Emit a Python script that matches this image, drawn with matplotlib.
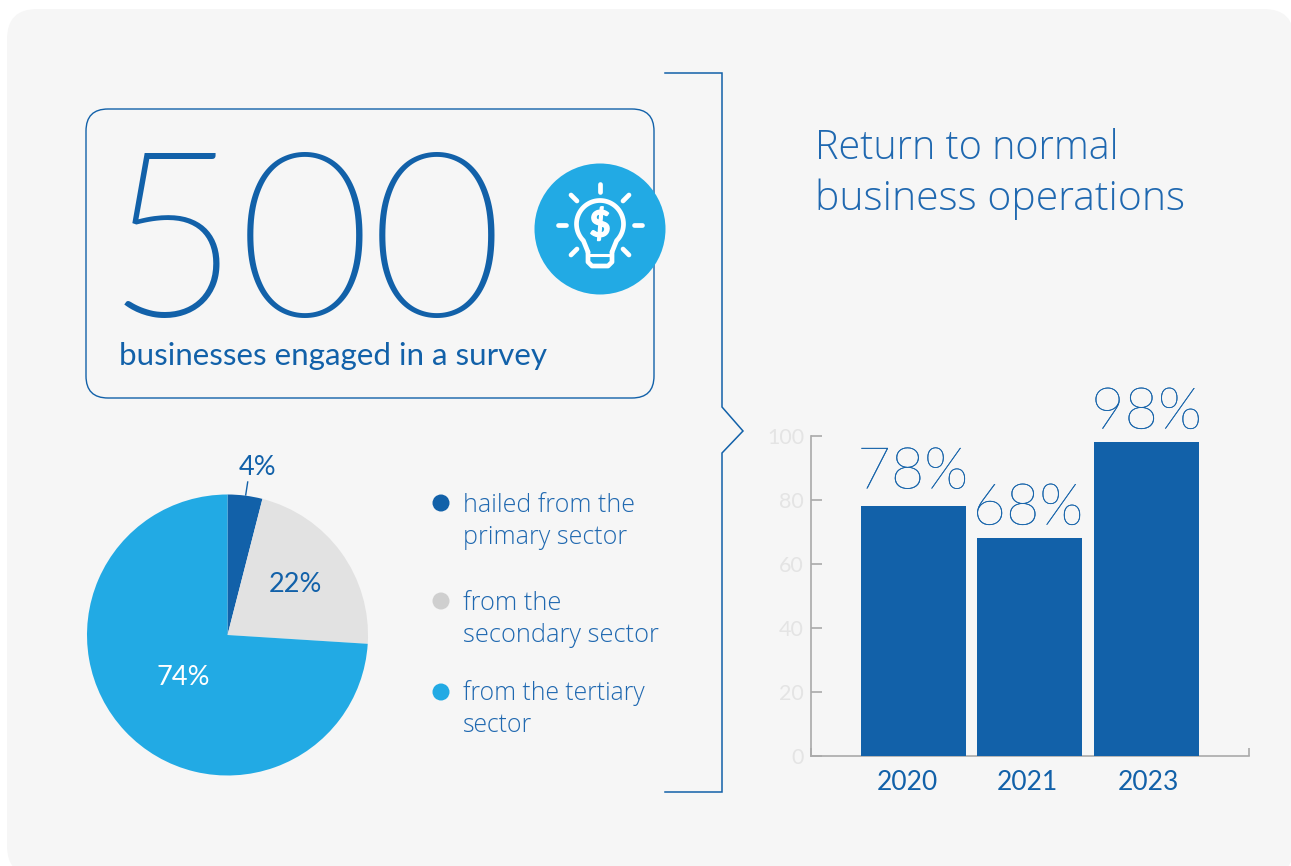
import numpy as np
import matplotlib
matplotlib.use("Agg")
import matplotlib.pyplot as plt
from matplotlib import font_manager as fm
from matplotlib.patches import FancyBboxPatch, Circle
from matplotlib.transforms import ScaledTranslation
import matplotlib.patheffects as pe

# ---- data ----
years = ["2020", "2021", "2023"]
return_pct = [78, 68, 98]
y_ticks = [0, 20, 40, 60, 80, 100]
sector_pct = [4, 22, 74]
legend_lines = ["hailed from the\nprimary sector", "from the\nsecondary sector", "from the tertiary\nsector"]
headline_value = "500"
headline_text = "businesses engaged in a survey"
title_lines = ["Return to normal", "business operations"]

# ---- style ----
W, H = 1291, 866
BLUE = "#1261a9"
SKY = "#22aae4"
PALE = "#e2e2e2"
BG = "#f6f6f6"
LEG_GREY = "#cfcfcf"
AXIS = "#aaaaaa"
TICKTXT = "#e4e4e4"
TEXTBLUE = "#1f68b0"


def lato_file(tag):
    for f in fm.fontManager.ttflist:
        base = f.fname.split("/")[-1]
        if f.name.startswith("Lato") and tag in base and "Italic" not in base:
            return fm.FontProperties(fname=f.fname)
    return fm.FontProperties(family="Lato")


LIGHT = lato_file("Light")

fig = plt.figure(figsize=(W / 100, H / 100), dpi=100, facecolor="white")
plt.rcParams["font.family"] = ["Lato", "DejaVu Sans"]


def axes_px(x0, y0, x1, y1, **kw):
    return fig.add_axes([x0 / W, 1 - y1 / H, (x1 - x0) / W, (y1 - y0) / H], **kw)


def overlay(z):
    a = axes_px(0, 0, W, H)
    a.set_xlim(0, W)
    a.set_ylim(H, 0)
    a.axis("off")
    a.set_zorder(z)
    return a


bg = overlay(0)
bg.add_patch(FancyBboxPatch((7 + 30, 9 + 30), 1294 - 7 - 60, 876 - 9 - 60,
                            boxstyle="round,pad=30,rounding_size=30", fc=BG, ec="none",
                            clip_on=True))
ov = overlay(3)
ov.patch.set_alpha(0)

ov.add_patch(FancyBboxPatch((86 + 22, 109 + 22), 568 - 44, 289 - 44,
                            boxstyle="round,pad=22,rounding_size=22",
                            fc="none", ec=BLUE, lw=1.0))

# bracket
ov.plot([665, 722, 722, 743, 722, 722, 665], [73, 73, 407, 431, 453, 792, 792],
        color=BLUE, lw=1.1, solid_joinstyle="miter")

# headline (digits placed one by one: the reference sets them wider apart)
for ch, xpos in zip(headline_value, [106, 237.5, 369.5]):
    ov.text(xpos, 315.5, ch, fontproperties=LIGHT, fontsize=166, color=BLUE,
            ha="left", va="baseline")
ov.text(119, 365, headline_text, fontsize=22.6, color=BLUE, ha="left", va="baseline")

# icon
ov.add_patch(Circle((600, 229), 65.5, fc=SKY, ec="none", zorder=5))
ik = dict(color="white", lw=3.4, solid_capstyle="round", solid_joinstyle="round", zorder=6)
for (xa, ya, xb, yb) in [(600, 184, 600, 192), (634, 225, 642, 225), (558, 225, 566, 225),
                         (571, 195, 577, 201), (629, 195, 623, 201),
                         (571, 255, 577, 249), (629, 255, 623, 249)]:
    ov.plot([xa, xb], [ya, yb], **ik)
t = np.radians(np.linspace(225, -45, 80))
bx = 600 + 23.5 * np.cos(t)
by = 224 - 23.5 * np.sin(t)
ov.plot(np.r_[588, bx, 612], np.r_[252, by, 252], **ik)
ov.plot([588, 588, 592, 608, 612, 612], [252, 262, 266, 266, 262, 252], **ik)
ov.plot([588, 612], [255, 255], color="white", lw=2.2, zorder=6)
ov.text(600, 225, "$", fontsize=26, color="white", weight="bold", ha="center",
        va="center", zorder=6, family="Lato",
        path_effects=[pe.withStroke(linewidth=1.0, foreground="white")])

# title
for line, y, size in zip(title_lines, [159, 210], [28.5, 29.4]):
    ov.text(815, y, line, fontsize=size, color=TEXTBLUE, weight="light", ha="left",
            va="baseline", family="Open Sans")

# legend
for colour, y, txt, size in zip([BLUE, LEG_GREY, SKY], [503, 601, 692], legend_lines, [18, 18.3, 17.8]):
    ov.add_patch(Circle((441, y), 8.5, fc=colour, ec="none"))
    a, b = txt.split("\n")
    ov.text(463, y + 8.5, a, fontsize=size, color=TEXTBLUE, va="baseline", ha="left",
            weight="light", family="Open Sans")
    ov.text(463, y + 40.5, b, fontsize=size, color=TEXTBLUE, va="baseline", ha="left",
            weight="light", family="Open Sans")

# pie
R = 140.5
cx, cy = 227.5, 635
pie_ax = axes_px(cx - R, cy - R, cx + R, cy + R)
pie_ax.set_facecolor("none")
pie_ax.set_zorder(1)
pie_ax.pie(sector_pct, colors=[BLUE, PALE, SKY], startangle=90, counterclock=False, radius=1.0,
           wedgeprops=dict(linewidth=0))
pie_ax.set_xlim(-1, 1)
pie_ax.set_ylim(-1, 1)

ov.plot([247.7, 245.7], [482, 495], color=BLUE, lw=1.0)
ov.text(257.5, 475, f"{sector_pct[0]}%", fontsize=19.5, color=BLUE, ha="center", va="baseline", zorder=10)
ov.text(295, 592, f"{sector_pct[1]}%", fontsize=19.5, color=BLUE, ha="center", va="baseline", zorder=10)
ov.text(183, 685, f"{sector_pct[2]}%", fontsize=19.5, color="white", ha="center", va="baseline", zorder=10)

# bars
spacing = 116.5
x0 = 913.5
ax = axes_px(811, 436, 1249, 756)
ax.set_facecolor("none")
ax.set_zorder(2)
xs = np.arange(len(years))
ax.bar(xs, return_pct, width=105 / spacing, color=BLUE, linewidth=0, zorder=3)
xmin, xmax = (811 - x0) / spacing, (1249 - x0) / spacing
ax.set_xlim(xmin, xmax)
ax.set_ylim(0, 100)
for s in ("top", "right"):
    ax.spines[s].set_visible(False)
for s in ("left", "bottom"):
    ax.spines[s].set_color(AXIS)
    ax.spines[s].set_linewidth(1.2)
ax.set_yticks(y_ticks)
ax.tick_params(axis="y", direction="in", length=8, width=1.2, color=AXIS,
               labelcolor=TICKTXT, labelsize=15.5, pad=5)
ax.set_xticks(xs, years)
ax.tick_params(axis="x", length=0, labelcolor=BLUE, labelsize=19, pad=10)
ax.set_xticks([xmin, xmax], minor=True)
ax.tick_params(axis="x", which="minor", direction="in", length=6, width=1.2, color=AXIS)
for lab, dx in zip(ax.get_xticklabels(), [-6, -3, 2]):
    lab.set_transform(lab.get_transform() + ScaledTranslation(dx / 100, 0, fig.dpi_scale_trans))

for x, v, dx, off in zip(xs, return_pct, [-0.5, -1.5, 0], [13, 10, 10]):
    ax.annotate(f"{v}%", (x, v), xytext=(dx, off), textcoords="offset points", ha="center",
                va="baseline", fontsize=41.5, color=BLUE, weight="ultralight", family="Lato",
                annotation_clip=False,
                path_effects=[pe.withStroke(linewidth=0.25, foreground=BLUE)])

fig.savefig("out.png", dpi=100, facecolor="white")
